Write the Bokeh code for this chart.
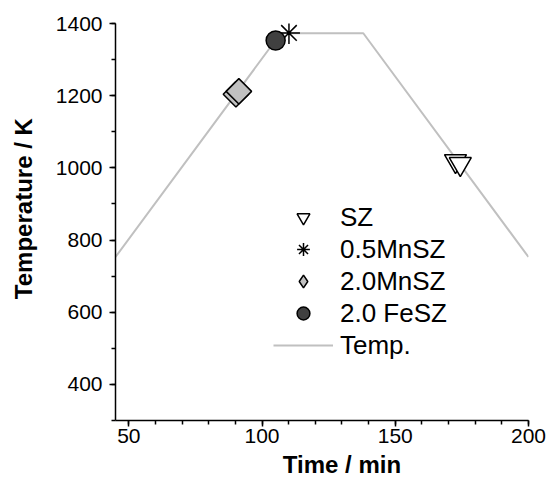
import numpy as np
from bokeh.plotting import figure
from bokeh.models import Range1d, SingleIntervalTicker, Legend, LegendItem
from bokeh.embed import file_html
from bokeh.resources import INLINE

# Furnace temperature programme (min, K)
time_profile = [45, 107, 138, 200]
temp_profile = [753, 1373, 1373, 753]

# Sample measurement points (min, K)
sz_time = [172.6, 174.4]
sz_temp = [1019, 1011]
mn05_time = [110.1]
mn05_temp = [1374]
mn20_time = [90.2, 91.3]
mn20_temp = [1204, 1212]
fe20_time = [105.1]
fe20_temp = [1353]

FONT = "Liberation Sans"
NBSP = "\u00a0"

p = figure(
    width=547, height=485,
    x_range=Range1d(45, 200), y_range=Range1d(300, 1400),
    output_backend="svg", toolbar_location=None,
    x_axis_label=NBSP * 6 + "Time / min",
    y_axis_label=NBSP * 4 + "Temperature / K",
    min_border_left=115, min_border_right=19,
    min_border_top=23, min_border_bottom=65,
)
p.outline_line_color = None
p.xgrid.visible = False
p.ygrid.visible = False
p.background_fill_color = "white"
p.border_fill_color = "white"

p.xaxis.ticker = SingleIntervalTicker(interval=50, num_minor_ticks=5)
p.yaxis.ticker = SingleIntervalTicker(interval=200, num_minor_ticks=2)

for ax in (p.xaxis[0], p.yaxis[0]):
    ax.axis_line_width = 1.5
    ax.axis_line_color = "black"
    ax.major_tick_line_width = 1.5
    ax.minor_tick_line_width = 1.5
    ax.major_tick_line_color = "black"
    ax.minor_tick_line_color = "black"
    ax.major_tick_in = 0
    ax.major_tick_out = 6
    ax.minor_tick_in = 0
    ax.minor_tick_out = 4
    ax.major_label_text_font = FONT
    ax.major_label_text_font_size = "21px"
    ax.major_label_text_color = "black"
    ax.axis_label_text_font = FONT
    ax.axis_label_text_font_size = "24px"
    ax.axis_label_text_font_style = "bold"
    ax.axis_label_text_color = "black"
p.xaxis.major_label_standoff = 2
p.xaxis.axis_label_standoff = 5
p.yaxis.major_label_standoff = 7
p.yaxis.axis_label_standoff = 16

temp_r = p.line(time_profile, temp_profile, line_color="#c0c0c0", line_width=2)

# zero-size copy of the 2.0MnSZ points: only supplies the diamond legend swatch
mn20_key = p.scatter(mn20_time, mn20_temp, marker="diamond", size=0,
                     fill_color="#c0c0c0", line_color="black", line_width=1.5)

sz_r = p.scatter(sz_time, sz_temp, marker="inverted_triangle", size=22,
                 fill_color="white", line_color="black", line_width=1.5)
mn05_r = p.scatter(mn05_time, mn05_temp, marker="asterisk", size=22,
                   line_color="black", line_width=1.5)
mn20_r = p.scatter(mn20_time, mn20_temp, marker="square", angle=np.pi / 4, size=18,
                   fill_color="#c0c0c0", line_color="black", line_width=1.5)
fe20_r = p.scatter(fe20_time, fe20_temp, marker="circle", size=19,
                   fill_color="#404040", line_color="black", line_width=1.5)

legend = Legend(
    items=[
        LegendItem(label="SZ", renderers=[sz_r], index=0),
        LegendItem(label="0.5MnSZ", renderers=[mn05_r]),
        LegendItem(label="2.0MnSZ", renderers=[mn20_key], index=0),
        LegendItem(label="2.0 FeSZ", renderers=[fe20_r]),
        LegendItem(label="Temp.", renderers=[temp_r]),
    ],
    location=(158, 59),
    glyph_width=60, glyph_height=32,
    label_height=32, label_standoff=7,
    spacing=0, padding=0, margin=0,
    label_text_font=FONT, label_text_font_size="26px",
    label_text_color="black",
    border_line_color=None, background_fill_alpha=0,
)
p.add_layout(legend, "center")

open("out.html", "w").write(file_html(p, INLINE))
